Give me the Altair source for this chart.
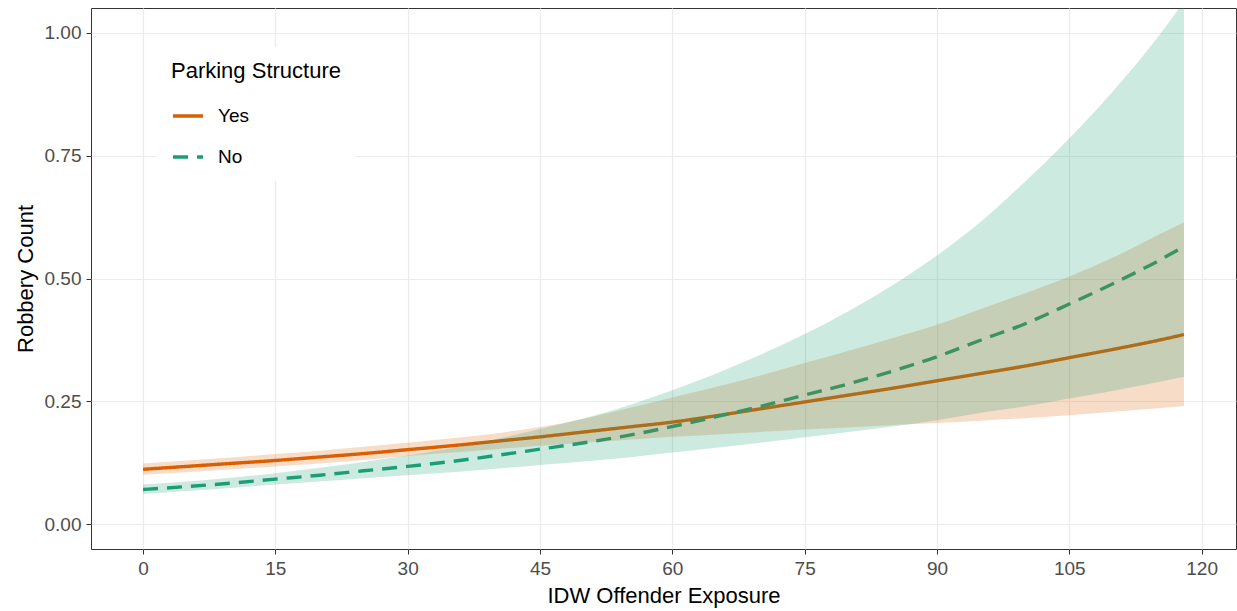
import altair as alt
import pandas as pd

# x positions (IDW Offender Exposure)
exposure = [0, 5, 10, 15, 20, 25, 30, 35, 40, 45, 50, 55, 60, 65, 70, 75, 80, 85, 90, 95, 100, 105, 110, 115, 118]

# Parking Structure = Yes
yes_fit = [0.112, 0.118, 0.124, 0.130, 0.137, 0.144, 0.152, 0.160, 0.169, 0.178, 0.188, 0.198, 0.208,
           0.221, 0.235, 0.249, 0.263, 0.277, 0.292, 0.307, 0.322, 0.339, 0.356, 0.374, 0.386]
yes_low = [0.101, 0.106, 0.112, 0.118, 0.124, 0.131, 0.139, 0.146, 0.153, 0.160, 0.166, 0.172, 0.178,
           0.183, 0.188, 0.193, 0.197, 0.202, 0.206, 0.211, 0.216, 0.222, 0.229, 0.236, 0.241]
yes_high = [0.124, 0.130, 0.136, 0.143, 0.150, 0.158, 0.166, 0.175, 0.185, 0.198, 0.215, 0.236, 0.258,
            0.280, 0.303, 0.328, 0.353, 0.379, 0.406, 0.438, 0.470, 0.504, 0.543, 0.588, 0.614]

# Parking Structure = No
no_fit = [0.071, 0.077, 0.084, 0.092, 0.100, 0.109, 0.118, 0.128, 0.140, 0.153, 0.166, 0.181, 0.199,
          0.219, 0.240, 0.263, 0.286, 0.312, 0.341, 0.375, 0.408, 0.448, 0.490, 0.535, 0.565]
no_low = [0.062, 0.068, 0.074, 0.081, 0.087, 0.094, 0.100, 0.106, 0.113, 0.121, 0.128, 0.136, 0.146,
          0.156, 0.166, 0.177, 0.188, 0.199, 0.212, 0.227, 0.240, 0.256, 0.272, 0.289, 0.300]
no_high = [0.081, 0.087, 0.095, 0.104, 0.115, 0.127, 0.140, 0.155, 0.173, 0.194, 0.216, 0.242, 0.273,
           0.307, 0.345, 0.387, 0.434, 0.487, 0.547, 0.616, 0.697, 0.785, 0.882, 0.990, 1.063]

groups = ["Yes", "No"]
colors = ["#D95F02", "#1B9E77"]
x_ticks = [0, 15, 30, 45, 60, 75, 90, 105, 120]
y_ticks = [0.0, 0.25, 0.5, 0.75, 1.0]

rows = []
for g, fit, lo, hi in [("Yes", yes_fit, yes_low, yes_high), ("No", no_fit, no_low, no_high)]:
    for x, f, l, h in zip(exposure, fit, lo, hi):
        rows.append({"x": x, "fit": f, "low": l, "high": h, "group": g})
df = pd.DataFrame(rows)

FONT = "Liberation Sans"

xscale = alt.Scale(domain=[-5.9, 123.9], nice=False, zero=False)
yscale = alt.Scale(domain=[-0.05, 1.05], nice=False, zero=False)

xenc = alt.X("x:Q", scale=xscale, title="IDW Offender Exposure",
             axis=alt.Axis(values=x_ticks, format="d"))

legend = alt.Legend(
    orient="none", legendX=66, legendY=39,
    fillColor="white", padding=14,
    titleFont=FONT, titleFontSize=22, titleFontWeight="normal", titleColor="#000000",
    titlePadding=16,
    labelFont=FONT, labelFontSize=19, labelColor="#000000", labelOffset=13,
    symbolSize=900, symbolStrokeWidth=3.4, symbolType="stroke",
    rowPadding=14,
)

lines = alt.Chart(df).mark_line(strokeWidth=3.4, interpolate="monotone", clip=True).encode(
    x=xenc,
    y=alt.Y("fit:Q", scale=yscale, title="Robbery Count",
            axis=alt.Axis(values=y_ticks, format=".2f")),
    color=alt.Color("group:N", scale=alt.Scale(domain=groups, range=colors),
                    title="Parking Structure", legend=legend),
    strokeDash=alt.StrokeDash("group:N", scale=alt.Scale(domain=groups, range=[[1, 0], [15, 9]]),
                              title="Parking Structure", legend=legend),
)

bands = alt.Chart(df).mark_area(opacity=0.22, interpolate="monotone", clip=True).encode(
    x=alt.X("x:Q", scale=xscale),
    y=alt.Y("low:Q", scale=yscale),
    y2="high:Q",
    fill=alt.Fill("group:N", scale=alt.Scale(domain=groups, range=colors), legend=None),
)

chart = alt.layer(lines, bands).properties(
    width=1145, height=541,
    autosize=alt.AutoSizeParams(type="none"),
    padding={"left": 91, "top": 8, "right": 1, "bottom": 62},
    background="white",
).configure_view(
    stroke="#333333", strokeWidth=1,
).configure_axis(
    grid=True, gridColor="#EBEBEB", gridWidth=1.2,
    domain=False,
    tickColor="#333333", tickSize=5, tickWidth=1,
    labelColor="#4D4D4D", labelFont=FONT, labelFontSize=19,
    titleFont=FONT, titleFontSize=22, titleFontWeight="normal", titleColor="#000000",
).configure_axisX(
    labelPadding=5, titlePadding=7,
).configure_axisY(
    labelPadding=5, titlePadding=7,
)

chart.save("out.html", embed_options={"renderer": "svg", "actions": False})
